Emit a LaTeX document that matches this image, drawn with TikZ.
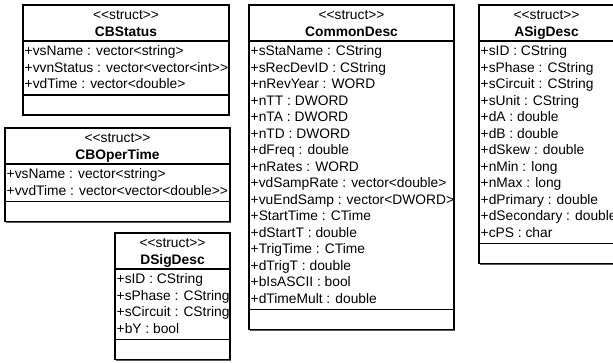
\documentclass[tikz,border=0pt]{standalone}
\usepackage{fontspec}
\setmainfont{Liberation Sans}
\tikzset{
  umlbox/.style={draw=black, line width=1.1pt, fill=white, inner sep=0pt, outer sep=0pt, anchor=north west},
  umlshadow/.style={fill=black!65},
  umlsep/.style={draw=black, line width=1.1pt},
  umltext/.style={inner sep=0pt, font=\fontsize{13.8}{16.5}\selectfont},
  umlattr/.style={umltext, anchor=base west},
  umlhead/.style={umltext, anchor=base},
  umlname/.style={umltext, anchor=base, font=\fontsize{13.8}{16.5}\selectfont\bfseries},
}
% #1 id, #2 left, #3 right, #4 top, #5 name, #6 number of rows, #7 rows
\newcommand\UMLbox[7]{%
  \pgfmathsetmacro\ubSepA{#4+36}%
  \pgfmathsetmacro\ubSepB{\ubSepA+10+(#6-1)*16.5+11}%
  \pgfmathsetmacro\ubBot{\ubSepB+20}%
  \pgfmathsetmacro\ubW{#3-#2}%
  \pgfmathsetmacro\ubH{\ubBot-#4}%
  \pgfmathsetmacro\ubMid{(#2+#3)/2}%
  \fill[umlshadow] (#2+1.3,#4+1.3) rectangle (#3+1.3,\ubBot+1.3);
  \node[umlbox, minimum width=\ubW pt, minimum height=\ubH pt] (#1) at (#2,#4) {};
  \draw[umlsep] (#2,\ubSepA) -- (#3,\ubSepA);
  \draw[umlsep] (#2,\ubSepB) -- (#3,\ubSepB);
  \node[umlhead] (#1-st) at (\ubMid,#4+14.7) {<{}<struct>{}>};
  \node[umlname] (#1-nm) at (\ubMid,#4+31.5) {#5};
  \foreach \t [count=\i] in {#7} {
    \node[umlattr] (#1-a\i) at (#2+1.5,\ubSepA+14.9+\i*16.5-16.5) {\t};
  }%
}
\begin{document}
\begin{tikzpicture}[x=1pt,y=-1pt]
\useasboundingbox[fill=white] (0,0) rectangle (613,362);
\UMLbox{cbs}{23}{229}{5}{CBStatus}{3}{%
  +vsName : vector<string>,
  +vvnStatus : vector<vector<int>{}>,
  +vdTime : vector<double>}
\UMLbox{cbo}{5}{230}{128}{CBOperTime}{2}{%
  +vsName : vector<string>,
  +vvdTime : vector<vector<double>{}>}
\UMLbox{dsd}{115}{230}{233}{DSigDesc}{4}{%
  +sID : CString,
  +sPhase : CString,
  +sCircuit : CString,
  +bY : bool}
\UMLbox{cmd}{249}{454}{5}{CommonDesc}{16}{%
  +sStaName : CString,
  +sRecDevID : CString,
  +nRevYear : WORD,
  +nTT : DWORD,
  +nTA : DWORD,
  +nTD : DWORD,
  +dFreq : double,
  +nRates : WORD,
  +vdSampRate : vector<double>,
  +vuEndSamp : vector<DWORD>,
  +StartTime : CTime,
  +dStartT : double,
  +TrigTime : CTime,
  +dTrigT : double,
  +bIsASCII : bool,
  +dTimeMult : double}
\UMLbox{asd}{479}{614}{5}{ASigDesc}{12}{%
  +sID : CString,
  +sPhase : CString,
  +sCircuit : CString,
  +sUnit : CString,
  +dA : double,
  +dB : double,
  +dSkew : double,
  +nMin : long,
  +nMax : long,
  +dPrimary : double,
  +dSecondary : double,
  +cPS : char}
\end{tikzpicture}
\end{document}
